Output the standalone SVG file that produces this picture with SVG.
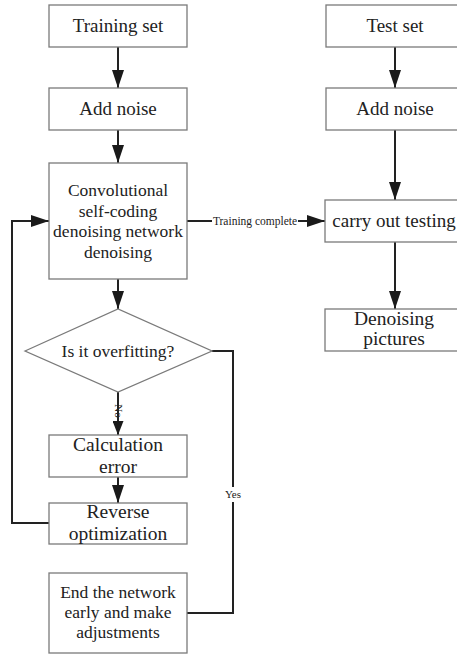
<svg xmlns="http://www.w3.org/2000/svg" width="457" height="655" viewBox="0 0 457 655">
<defs>
<style>
.box{fill:#fff;stroke:#7a7a7a;stroke-width:1.3}
.t{font-family:"Liberation Serif","Times New Roman",serif;fill:#222;text-anchor:middle}
.c{fill:none;stroke:#222;stroke-width:2}
</style>
<marker id="ah" viewBox="0 0 18 12" markerWidth="18" markerHeight="12" refX="18" refY="6" orient="auto" markerUnits="userSpaceOnUse">
<path d="M0 0L18 6L0 12Z" fill="#1a1a1a"/>
</marker>
<marker id="ahs" viewBox="0 0 14 11" markerWidth="14" markerHeight="11" refX="14" refY="5.5" orient="auto" markerUnits="userSpaceOnUse">
<path d="M0 0L14 5.5L0 11Z" fill="#1a1a1a"/>
</marker>
</defs>
<rect width="457" height="655" fill="#fff"/>
<g id="connectors">
<path class="c" d="M118 47V88" marker-end="url(#ah)"/>
<path class="c" d="M118 130V163" marker-end="url(#ah)"/>
<path class="c" d="M118 279V309" marker-end="url(#ah)"/>
<path class="c" d="M118 392V435" marker-end="url(#ahs)"/>
<path class="c" d="M118 477V503" marker-end="url(#ah)"/>
<path class="c" d="M49 523H12V221H49" marker-end="url(#ah)"/>
<path class="c" d="M187 221H212M298 221H325" marker-end="url(#ah)"/>
<path class="c" d="M212 351H233V487M233 502V613H187"/>
<path class="c" d="M395 47V88" marker-end="url(#ah)"/>
<path class="c" d="M395 130V200" marker-end="url(#ah)"/>
<path class="c" d="M395 242V309" marker-end="url(#ah)"/>
<text class="t" x="255" y="225" font-size="11.5">Training complete</text>
<text class="t" x="0" y="0" font-size="11" transform="translate(114.5 411) rotate(90)">No</text>
<text class="t" x="233" y="498" font-size="11">Yes</text>
</g>
<g id="training-set">
<rect class="box" x="49" y="5" width="138" height="42"/>
<text class="t" x="118" y="32" font-size="19">Training set</text>
</g>
<g id="add-noise-1">
<rect class="box" x="49" y="88" width="138" height="42"/>
<text class="t" x="118" y="115" font-size="19">Add noise</text>
</g>
<g id="conv">
<rect class="box" x="49" y="163" width="138" height="116"/>
<text class="t" font-size="17.5"><tspan x="118" y="196">Convolutional</tspan><tspan x="118" y="216.5">self-coding</tspan><tspan x="118" y="237">denoising network</tspan><tspan x="118" y="257.5">denoising</tspan></text>
</g>
<g id="overfitting">
<path d="M25 351L118 309L212 351L118 392Z" fill="#fff" stroke="#7a7a7a" stroke-width="1.3"/>
<text class="t" x="118" y="357" font-size="17.5">Is it overfitting?</text>
</g>
<g id="calc-error">
<rect class="box" x="49" y="435" width="138" height="42"/>
<text class="t" font-size="19.5"><tspan x="118" y="451">Calculation</tspan><tspan x="118" y="473">error</tspan></text>
</g>
<g id="reverse">
<rect class="box" x="49" y="503" width="138" height="41"/>
<text class="t" font-size="19.5"><tspan x="118" y="518">Reverse</tspan><tspan x="118" y="540">optimization</tspan></text>
</g>
<g id="end-early">
<rect class="box" x="49" y="573" width="138" height="80"/>
<text class="t" font-size="17.5"><tspan x="118" y="598">End the network</tspan><tspan x="118" y="618">early and make</tspan><tspan x="118" y="638">adjustments</tspan></text>
</g>
<g id="test-set">
<rect class="box" x="326" y="5" width="138" height="42"/>
<text class="t" x="395" y="32" font-size="19">Test set</text>
</g>
<g id="add-noise-2">
<rect class="box" x="326" y="88" width="138" height="42"/>
<text class="t" x="395" y="115" font-size="19">Add noise</text>
</g>
<g id="testing">
<rect class="box" x="325" y="200" width="138" height="42"/>
<text class="t" x="394" y="227" font-size="19">carry out testing</text>
</g>
<g id="denoising-pictures">
<rect class="box" x="325" y="309" width="138" height="42"/>
<text class="t" font-size="19.5"><tspan x="394" y="325">Denoising</tspan><tspan x="394" y="345">pictures</tspan></text>
</g>
</svg>
